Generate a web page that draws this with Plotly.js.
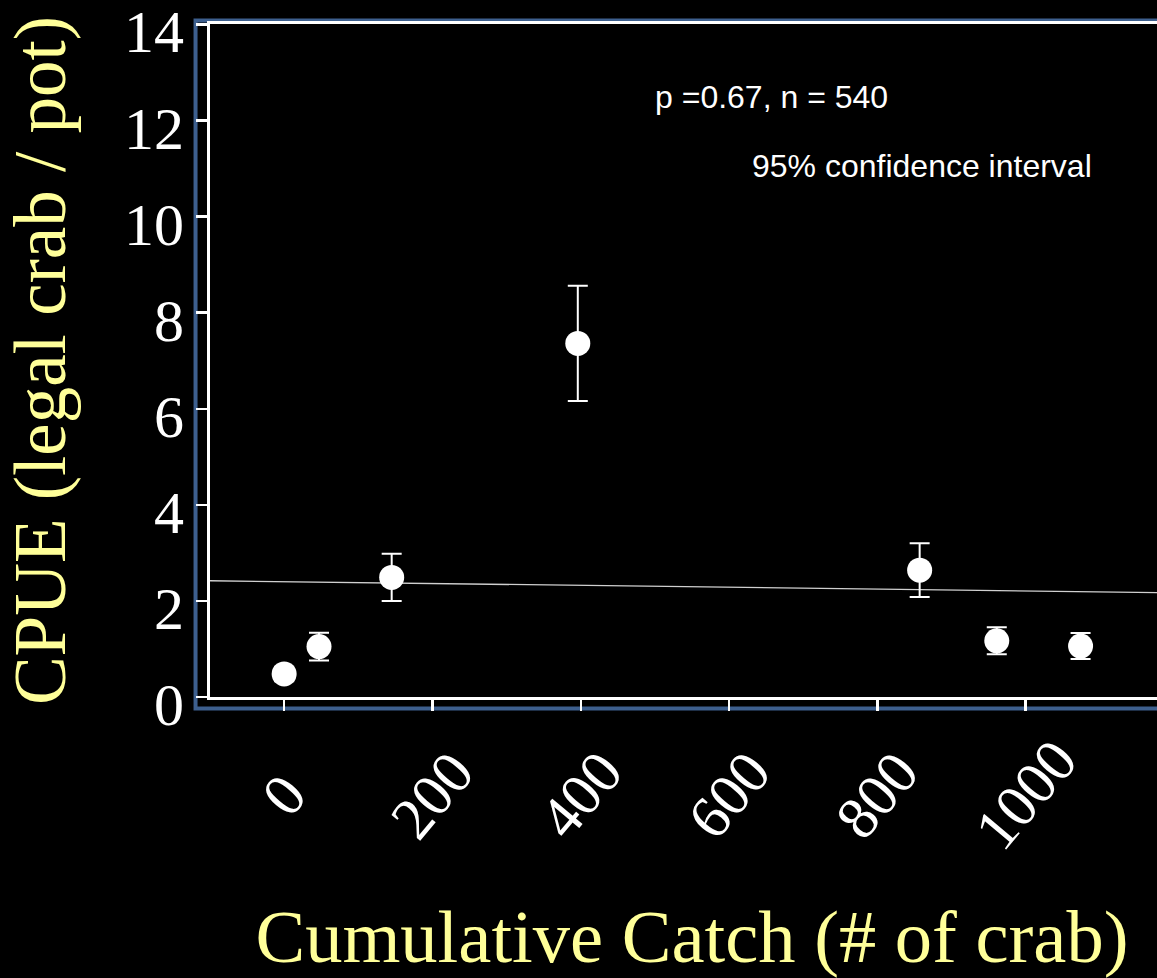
<!DOCTYPE html>
<html>
<head>
<meta charset="utf-8">
<script src="https://cdn.plot.ly/plotly-3.0.1.min.js"></script>
<style>
  html, body { margin: 0; padding: 0; background: #000; overflow: hidden; }
  #chart { width: 1200px; height: 978px; }
</style>
</head>
<body>
<div id="chart"></div>
<script>
// Data
const cumCatch = [0, 47, 145, 396, 857, 961, 1074];
const cpue     = [0.48, 1.05, 2.49, 7.36, 2.64, 1.17, 1.06];
const ciHalf   = [0.15, 0.29, 0.49, 1.2, 0.56, 0.28, 0.27];

const regX = [-100, 1200];
const regY = [2.42, 2.17];

const xTickVals = [0, 200, 400, 600, 800, 1000];
const xTickText = ["0", "200", "400", "600", "800", "1000"];
const yTickVals = [0, 2, 4, 6, 8, 10, 12, 14];
const yTickText = ["0", "2", "4", "6", "8", "10", "12", "14"];

const statText = "p =0.67, n = 540";
const ciText = "95% confidence interval";
const xTitle = "Cumulative Catch (# of crab)";
const yTitle = "CPUE (legal crab / pot)";

const serif = "'Liberation Serif', 'Times New Roman', serif";
const sans = "'Liberation Sans', Arial, sans-serif";
const yellow = "#FFFF99";

const traces = [
  {
    x: regX, y: regY, type: "scatter", mode: "lines",
    line: { color: "#d0d0d0", width: 1.3 },
    hoverinfo: "skip", showlegend: false
  },
  {
    x: cumCatch, y: cpue, type: "scatter", mode: "markers",
    marker: { color: "#ffffff", size: 25 },
    error_y: { type: "data", array: ciHalf, visible: true, color: "#ffffff", thickness: 2, width: 10 },
    showlegend: false
  }
];

const tickAnnotations = xTickVals.map((v, i) => ({
  x: v, xref: "x", y: -0.1456, yref: "paper",
  text: xTickText[i], showarrow: false, textangle: -50,
  xanchor: "center", yanchor: "middle",
  font: { family: serif, size: 60, color: "#ffffff" }
}));

const layout = {
  width: 1200, height: 978,
  paper_bgcolor: "#000000", plot_bgcolor: "#000000",
  margin: { l: 210, r: 26, t: 24, b: 281 },
  showlegend: false,
  xaxis: {
    range: [-100, 1200],
    showgrid: false, zeroline: false,
    showline: true, linecolor: "#ffffff", linewidth: 3, mirror: true,
    ticks: "outside", ticklen: 11, tickwidth: 2.5, tickcolor: "#ffffff",
    tickvals: xTickVals, ticktext: xTickText, showticklabels: false,
    title: { text: xTitle, font: { family: serif, size: 74.5, color: yellow }, standoff: 200 },
    automargin: false
  },
  yaxis: {
    range: [0, 14.01],
    showgrid: false, zeroline: false,
    showline: true, linecolor: "#ffffff", linewidth: 3,
    ticks: "outside", ticklen: 11, tickwidth: 2.5, tickcolor: "#ffffff",
    tickvals: yTickVals, ticktext: yTickText,
    ticklabeloverflow: "allow",
    ticklabelshift: 7,
    tickfont: { family: serif, size: 60, color: "#ffffff" },
    title: { text: yTitle, font: { family: serif, size: 73, color: yellow }, standoff: 44 },
    automargin: false
  },
  shapes: [
    {
      type: "rect", xref: "paper", yref: "paper",
      x0: -0.015, x1: 1.05, y0: -0.0171, y1: 1.0052,
      line: { color: "#3d5f8e", width: 4 }, fillcolor: "rgba(0,0,0,0)", layer: "below"
    }
  ],
  annotations: [
    {
      x: 0.4595, xref: "paper", y: 0.8915, yref: "paper",
      text: statText, showarrow: false, xanchor: "left", yanchor: "middle",
      font: { family: sans, size: 32, color: "#ffffff" }
    },
    {
      x: 0.560, xref: "paper", y: 0.789, yref: "paper",
      text: ciText, showarrow: false, xanchor: "left", yanchor: "middle",
      font: { family: sans, size: 32, color: "#ffffff" }
    }
  ].concat(tickAnnotations)
};

Plotly.newPlot("chart", traces, layout, { staticPlot: true, displayModeBar: false });
</script>
</body>
</html>
